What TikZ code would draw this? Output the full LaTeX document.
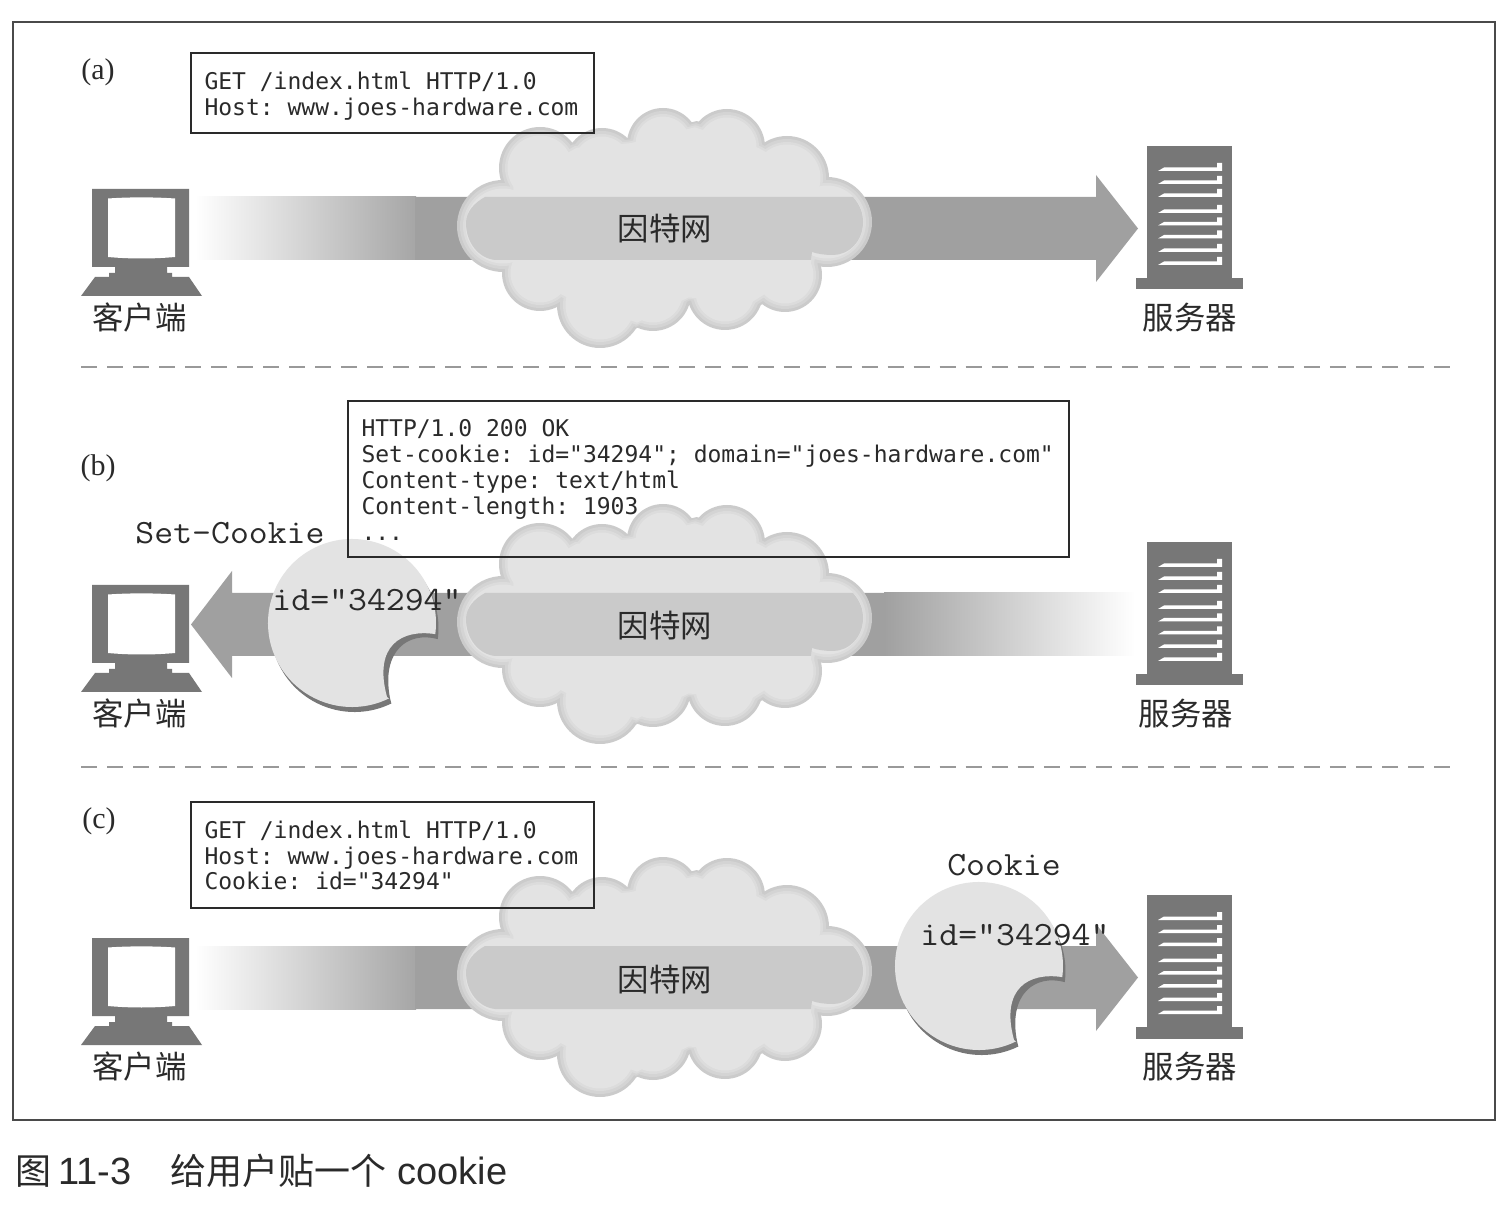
\documentclass[tikz,border=0pt]{standalone}
\usepackage{fontspec}
\setmainfont{Liberation Sans}
\setmonofont[Kerning=Off,Ligatures=NoCommon]{DejaVu Sans Mono}
\newfontfamily\cjk{Noto Sans CJK SC}
\newfontfamily\serifface{Liberation Serif}
\newfontfamily\courface{Latin Modern Mono}
\definecolor{arrowgray}{HTML}{A0A0A0}
\definecolor{icongray}{HTML}{777777}
\definecolor{cloudlight}{HTML}{E3E3E3}
\definecolor{cloudmidb}{HTML}{DCDCDC}
\definecolor{cloudmid}{HTML}{D4D4D4}
\definecolor{cloudedge}{HTML}{CBCBCB}
\definecolor{bandgray}{HTML}{CACACA}
\definecolor{inkgray}{HTML}{2A2A2A}
\newcommand{\msgfont}{\ttfamily\fontsize{11.5}{13}\selectfont\frenchspacing
  \fontdimen2\font=0.602em\fontdimen3\font=0pt\fontdimen4\font=0pt\fontdimen7\font=0pt}
\tikzset{
  msgbox/.style={draw=inkgray,line width=1pt,anchor=north west,inner xsep=7pt,inner ysep=0pt,align=flush left,
    font=\msgfont,text=inkgray},
  cjklabel/.style={font=\cjk\fontsize{15.7}{18}\selectfont,text=inkgray,inner sep=0pt},
  panellabel/.style={font=\serifface\fontsize{15}{18}\selectfont,text=inkgray,inner sep=0pt},
  courlabel/.style={font=\courface\fontsize{17}{20}\selectfont,text=inkgray,inner sep=0pt,xscale=1.08},
  icon/.style={fill=icongray,draw=none},
}
\newcommand{\lowline}[2]{\raisebox{-#1}[\height][\depth]{#2}}
\newcommand{\solidarrowright}[1]{%
  \fill[arrowgray] (#1,197) -- (1096,197) -- (1096,175) -- (1138,228.5) -- (1096,282) -- (1096,260) -- (#1,260) -- cycle;}
\newcommand{\fadeleft}{%
  \shade[left color=white,right color=arrowgray!94!white,draw=none] (195,197) rectangle (416,260);}
\newcommand{\clientbox}[1]{%
  \fill[icon] (92,189) -- (189,189) -- (189,267) -- (167,267) -- (167,273) -- (172,273) -- (172,277) -- (189,277)
    -- (202,296) -- (81,296) -- (95,277) -- (109,277) -- (109,273) -- (115,273) -- (115,267) -- (92,267) -- cycle;
  \fill[white] (108,198.5) .. controls (130,197) and (153,197) .. (175,198.5) -- (175,257)
    .. controls (153,259) and (130,259) .. (108,257) -- cycle;
  \node[cjklabel] (#1client) at (139.5,318) {客户端};}
\newcommand{\serverbox}[2]{%
  \fill[icon] (1147,146) rectangle (1232,278);
  \fill[icon] (1136,278) rectangle (1243,289.5);
  \foreach \sy in {171,184,197,213,225.5,238.5,252,265}{
    \fill[white] (1158,\sy) -- (1164,\sy-3.5) -- (1217,\sy-3.5) -- (1217,\sy-8) -- (1222,\sy-8) -- (1222,\sy) -- cycle;}
  \node[cjklabel] (#1server) at (#2,318) {服务器};}
\newcommand{\cloudlayer}[3]{%
  \foreach \cx/\cy/\cr in {503/226/46,540/273/38,600/305/43,653/293/38,725/292/38,785/275/37,827/222/45,787/178/42,727/147/38,663/144/36,602/165/37,540/168/41}{
    \fill[#1] (\cx,\cy) circle[radius=\cr-#2];}
  \fill[#1,scale around={#3:(665,225)}] (502,180) -- (570,142) -- (628,137) -- (697,120) -- (765,142) -- (828,176)
    -- (822,268) -- (760,307) -- (690,303) -- (635,330) -- (560,303) -- (502,272) -- cycle;}
\newcommand{\cloudshape}[2]{%
  \cloudlayer{cloudedge}{0}{0.99}
  \cloudlayer{cloudmid}{3}{0.97}
  \cloudlayer{cloudmidb}{6}{0.95}
  \cloudlayer{cloudlight}{8.5}{0.93}
  \fill[bandgray] (485,197) -- (853,197) .. controls (860,205) and (863,213) .. (863,222)
    .. controls (863,242) and (848,255) .. (833,255) .. controls (825,255) and (818,254) .. (812,252)
    -- (811,260) -- (495,260) .. controls (478,258) and (466,242) .. (466,223) .. controls (466,212) and (474,203) .. (485,197) -- cycle;
  \node[cjklabel] (#1net) at (665,#2) {因特网};}
\newcommand{\cookieshape}[1]{%
  \begin{scope}[shift={(#1)}]
    \fill[icongray] (2.5,5) ++(64:84) arc[start angle=64,end angle=367.6,radius=84]
      .. controls (56,8) and (29,28) .. (38,75) -- cycle;
    \fill[cloudlight] (64:84) arc[start angle=64,end angle=367.6,radius=84]
      .. controls (50,6) and (21,22) .. (35,74) -- cycle;
  \end{scope}}
\begin{document}
\begin{tikzpicture}[x=0.5pt,y=-0.5pt]
\useasboundingbox (0,0) rectangle (1510,1218);
\fill[white] (0,0) rectangle (1510,1218);
\draw[draw=inkgray!85,line width=0.6pt] (13,22) rectangle (1495,1120);

% panel a
\fadeleft
\solidarrowright{415}
\clientbox{a}
\serverbox{a}{1190}
\cloudshape{a}{229}
\node[panellabel] (alabel) at (98,72) {(a)};
\node[msgbox,text width=187.5pt,minimum height=40pt] (abox) at (189.5,52)
  {\lowline{1.5pt}{GET /index.html HTTP/1.0}\\\lowline{1.5pt}{Host: www.joes-hardware.com}};

\draw[draw=gray!80,line width=0.6pt,dash pattern=on 8pt off 5.01pt] (81,367) -- (1450,367);

% panel b
\begin{scope}[shift={(0,396)}]
  \fill[arrowgray] (885,197) -- (232,197) -- (232,175) -- (191,228.5) -- (232,282) -- (232,260) -- (885,260) -- cycle;
  \shade[left color=arrowgray,right color=white,draw=none] (884,197) rectangle (1135,260);
  \clientbox{b}
  \serverbox{b}{1186}
  \cloudshape{b}{230}
\end{scope}
\cookieshape{352,623}
\node[panellabel] (blabel) at (98,468) {(b)};
\node[courlabel] (bset) at (230,533) {Set-Cookie};
\node[courlabel] (bid) at (367,600) {id="34294"};
\node[msgbox,text width=346.5pt,minimum height=78pt] (bbox) at (346.5,400)
  {\lowline{0.5pt}{HTTP/1.0 200 OK}\\\lowline{0.5pt}{Set-cookie: id="34294"; domain="joes-hardware.com"}\\\lowline{0.5pt}{Content-type: text/html}\\\lowline{0.5pt}{Content-length: 1903}\\\lowline{0.5pt}{...}};

\draw[draw=gray!80,line width=0.6pt,dash pattern=on 8pt off 5.01pt] (81,767) -- (1450,767);

% panel c
\begin{scope}[shift={(0,749)}]
  \fadeleft
  \solidarrowright{415}
  \clientbox{c}
  \serverbox{c}{1190}
  \cloudshape{c}{231}
\end{scope}
\cookieshape{979,966}
\node[panellabel] (clabel) at (99,821) {(c)};
\node[courlabel] (ccook) at (1004,865) {Cookie};
\node[courlabel] (cid) at (1015,935) {id="34294"};
\node[msgbox,text width=187.5pt,minimum height=53pt] (cbox) at (189.5,801)
  {\lowline{0.5pt}{GET /index.html HTTP/1.0}\\\lowline{0.5pt}{Host: www.joes-hardware.com}\\Cookie: id="34294"};

\node[anchor=west,inner sep=0pt,font=\fontsize{19}{22}\selectfont,text=inkgray] (caption) at (15,1171)
  {{\cjk\fontsize{18}{22}\selectfont 图}\hspace{3.5pt}11-3\hspace{19.5pt}{\cjk\fontsize{18}{22}\selectfont 给用户贴一个}\hspace{5.5pt}cookie};
\end{tikzpicture}
\end{document}
